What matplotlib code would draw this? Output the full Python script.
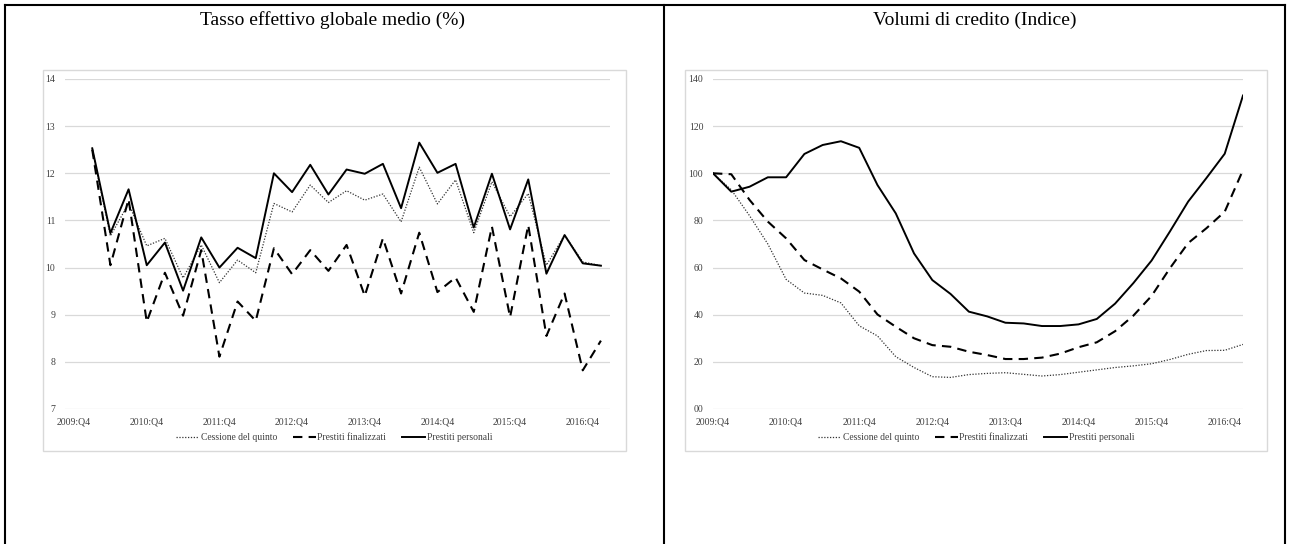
import numpy as np
import matplotlib
matplotlib.use("Agg")
import matplotlib.pyplot as plt
from matplotlib.lines import Line2D
from matplotlib.patches import Rectangle

plt.rcParams['font.family'] = ['Liberation Serif', 'DejaVu Serif']

# categorie trimestrali 2009:Q4 - 2017:Q1
trimestri = []
for anno in range(2009, 2018):
    for q in range(1, 5):
        trimestri.append(f"{anno}:Q{q}")
trimestri = trimestri[3:33]
etichette_x = ["2009:Q4", "2010:Q4", "2011:Q4", "2012:Q4", "2013:Q4", "2014:Q4", "2015:Q4", "2016:Q4"]

# TAEG medio (%) - il primo trimestre non ha dato
taeg_cessione = [np.nan, 12.5, 10.67, 11.36, 10.46, 10.62, 9.78, 10.48, 9.68, 10.16, 9.89,
                 11.36, 11.18, 11.75, 11.38, 11.63, 11.43, 11.56, 10.97, 12.13, 11.35,
                 11.86, 10.74, 11.82, 11.08, 11.57, 10.05, 10.69, 10.12, 10.04]
taeg_finalizzati = [np.nan, 12.5, 10.05, 11.45, 8.85, 9.89, 8.98, 10.37, 8.11, 9.28, 8.87,
                    10.41, 9.86, 10.37, 9.93, 10.48, 9.4, 10.62, 9.45, 10.74, 9.48,
                    9.79, 9.06, 10.87, 8.95, 10.9, 8.55, 9.45, 7.82, 8.45]
taeg_personali = [np.nan, 12.53, 10.73, 11.66, 10.05, 10.53, 9.51, 10.64, 10.0, 10.42, 10.2,
                  12.0, 11.6, 12.18, 11.55, 12.08, 11.99, 12.2, 11.26, 12.65, 12.01,
                  12.2, 10.85, 11.99, 10.81, 11.87, 9.87, 10.69, 10.09, 10.04]

# volumi di credito (indice 2009:Q4 = 100)
vol_cessione = [100, 93.0, 82.0, 70.0, 55.0, 49.2, 48.2, 45.0, 35.3, 31.0, 22.2,
                17.6, 13.7, 13.4, 14.6, 15.1, 15.4, 14.7, 14.0, 14.6, 15.6,
                16.6, 17.6, 18.3, 19.2, 21.0, 23.2, 24.8, 24.9, 27.4]
vol_finalizzati = [100, 99.6, 88.7, 79.5, 72.4, 63.2, 59.2, 55.4, 49.8, 40.1, 34.9,
                   30.0, 27.1, 26.4, 24.3, 22.9, 21.2, 21.2, 21.8, 23.5, 26.2,
                   28.3, 33.0, 39.6, 48.0, 59.7, 70.4, 76.7, 83.7, 101.4]
vol_personali = [100, 92.2, 94.3, 98.3, 98.3, 108.2, 112.0, 113.6, 110.8, 95.0, 83.0,
                 66.0, 54.7, 48.8, 41.3, 39.3, 36.6, 36.3, 35.2, 35.2, 35.9,
                 38.2, 44.7, 53.4, 63.0, 75.3, 88.0, 98.0, 108.3, 133.0]

serie = ["Cessione del quinto", "Prestiti finalizzati", "Prestiti personali"]
tick_taeg = [7, 8, 9, 10, 11, 12, 13, 14]
tick_vol = [0, 20, 40, 60, 80, 100, 120, 140]
etichette_vol = ["00", "20", "40", "60", "80", "100", "120", "140"]

W, H = 1290, 544
fig = plt.figure(figsize=(W / 100, H / 100), dpi=100)


def box(x0, y0, x1, y1):
    # coordinate in pixel dall'alto a sinistra -> frazioni della figura
    return [x0 / W, 1 - y1 / H, (x1 - x0) / W, (y1 - y0) / H]


stili = [dict(color='#333333', lw=0.9, linestyle=(0, (1, 1.3))),
         dict(color='black', lw=1.5, linestyle=(0, (4.5, 3))),
         dict(color='black', lw=1.4, linestyle='-')]

x = np.arange(len(trimestri))


def pannello(rect, dati, yticks, ylabels, xlim, frame, centro):
    fig.patches.append(Rectangle((frame[0] / W, 1 - frame[3] / H),
                                 (frame[2] - frame[0]) / W, (frame[3] - frame[1]) / H,
                                 transform=fig.transFigure, fill=False,
                                 edgecolor='#d9d9d9', lw=1.0))
    ax = fig.add_axes(box(*rect))
    for d, st, nome in zip(dati, stili, serie):
        ax.plot(x, d, label=nome, **st)
    ax.set_xlim(*xlim)
    ax.set_ylim(yticks[0], yticks[-1])
    ax.set_yticks(yticks)
    ax.set_yticklabels(ylabels)
    ax.set_xticks(x[::4])
    ax.set_xticklabels(etichette_x)
    ax.grid(axis='y', color='#d9d9d9', lw=0.9)
    ax.set_axisbelow(True)
    for s in ax.spines.values():
        s.set_visible(False)
    ax.tick_params(length=0, labelsize=7, colors='#404040', pad=7)
    ax.tick_params(axis='x', pad=6)
    ax.legend(loc='center', bbox_to_anchor=(centro / W, 1 - 438 / H),
              bbox_transform=fig.transFigure, ncol=3, frameon=False,
              fontsize=6.9, handlelength=2.4, handletextpad=0.2,
              columnspacing=1.6, labelcolor='#404040')
    return ax


pannello((65, 79, 610, 409), [taeg_cessione, taeg_finalizzati, taeg_personali],
         tick_taeg, [str(t) for t in tick_taeg], (-0.5, 29.5), (43, 70, 626, 451), 334)
pannello((713, 79, 1243, 409), [vol_cessione, vol_finalizzati, vol_personali],
         tick_vol, etichette_vol, (0, 29), (685, 70, 1267, 451), 976)

fig.text(333 / W, 1 - 20 / H, "Tasso effettivo globale medio (%)", ha='center', va='center',
         fontsize=14)
fig.text(975 / W, 1 - 20 / H, "Volumi di credito (Indice)", ha='center', va='center',
         fontsize=14)

# bordi della tabella
for xs, ys in [([5, 1285], [5, 5]), ([5, 5], [5, 544]), ([664, 664], [5, 544]),
               ([1285, 1285], [5, 544])]:
    fig.lines.append(Line2D([v / W for v in xs], [1 - v / H for v in ys],
                            transform=fig.transFigure, color='black', lw=1.5))

fig.savefig("out.png", dpi=100)
